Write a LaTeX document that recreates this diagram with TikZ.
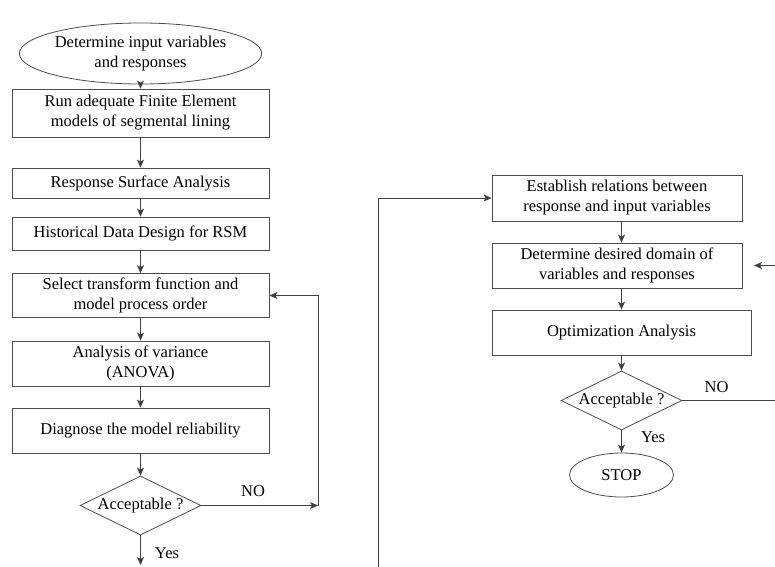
\documentclass[tikz,border=0pt]{standalone}
\usepackage{fontspec}
\setmainfont{Liberation Serif}
\usetikzlibrary{shapes.geometric,arrows.meta}
\begin{document}
\begin{tikzpicture}[x=1pt,y=-1pt,
  every node/.style={font=\fontsize{16.5}{20}\selectfont, text=black},
  proc/.style={draw=black!70, line width=0.8pt, rectangle, inner sep=0pt, align=center},
  term/.style={draw=black!70, line width=0.8pt, ellipse, inner sep=0pt, align=center},
  decis/.style={draw=black!70, line width=0.8pt, diamond, inner sep=0pt, shape aspect=2.05, minimum width=121pt, minimum height=59pt},
  conn/.style={draw=black!75, line width=0.8pt, -{Stealth[length=8pt,width=7pt,inset=2pt]}},
  lbl/.style={inner sep=0pt}]
\useasboundingbox (0,0) rectangle (775,566);
% left column
\node[term, minimum width=205pt, minimum height=61pt] (start) at (140.5,53.5) {Determine input variables\\and responses};
\node[proc, minimum width=257pt, minimum height=48pt] (b1) at (140.5,113) {Run adequate Finite Element\\models of segmental lining};
\node[proc, minimum width=257pt, minimum height=30pt] (b2) at (140.5,183) {Response Surface Analysis};
\node[proc, minimum width=257pt, minimum height=33pt] (b3) at (140.5,233.5) {Historical Data Design for RSM};
\node[proc, minimum width=257pt, minimum height=44pt] (b4) at (140.5,295.5) {Select transform function and\\model process order};
\node[proc, minimum width=257pt, minimum height=45pt] (b5) at (140.5,363.5) {Analysis of variance\\(ANOVA)};
\node[proc, minimum width=257pt, minimum height=45pt] (b6) at (140.5,430.5) {Diagnose the model reliability};
\node[decis] (d1) at (140.5,505.5) {Acceptable ?};
\coordinate (y1) at (140.5,565);
\coordinate (n1) at (318,505.5);
\node[lbl] (no1) at (253,491) {NO};
\node[lbl] (yes1) at (167,553) {Yes};
% right column
\node[proc, minimum width=250pt, minimum height=46pt] (b7) at (617,198) {Establish relations between\\response and input variables};
\node[proc, minimum width=250pt, minimum height=45pt] (b8) at (617,265.5) {Determine desired domain of\\variables and responses};
\node[proc, minimum width=259pt, minimum height=45pt] (b9) at (621.5,332.5) {Optimization Analysis};
\node[decis] (d2) at (621.5,400.5) {Acceptable ?};
\node[term, minimum width=104pt, minimum height=44pt] (stop) at (621.5,475) {STOP};
\node[lbl] (no2) at (716.5,387) {NO};
\node[lbl] (yes2) at (653,437.5) {Yes};
\coordinate (l1) at (378,567);
\coordinate (r1) at (777,400.5);
\coordinate (r2) at (754,265.5);
% connectors left
\draw[conn] (start.south) -- (start.south |- b1.north);
\draw[conn] (b1) -- (b2);
\draw[conn] (b2) -- (b3);
\draw[conn] (b3) -- (b4);
\draw[conn] (b4) -- (b5);
\draw[conn] (b5) -- (b6);
\draw[conn] (b6) -- (d1);
\draw[conn] (d1.south) -- (y1);
\draw[conn] (d1.east) -- (n1);
\draw[conn] (n1) |- (b4.east);
% connectors right
\draw[conn] (l1) |- (b7.west);
\draw[conn] (b7.south -| d2) -- (b8.north -| d2);
\draw[conn] (b8.south -| d2) -- (b9.north -| d2);
\draw[conn] (b9.south -| d2) -- (d2.north);
\draw[conn] (d2.south) -- (stop.north);
\draw[conn] (d2.east) -- (r1) |- (r2);
\end{tikzpicture}
\end{document}
